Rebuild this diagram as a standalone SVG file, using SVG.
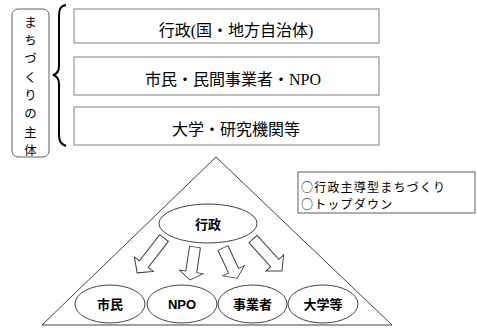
<svg xmlns="http://www.w3.org/2000/svg" width="477" height="328" viewBox="0 0 477 328">
<style>
.box{fill:#fff;stroke:#808080;stroke-width:1}
.serif{font-family:"Liberation Serif","Noto Sans CJK JP",serif;font-size:16px;fill:#000;text-anchor:middle}
.lab{font-family:"Noto Sans CJK JP",sans-serif;font-size:12.4px;fill:#000;text-anchor:middle}
.ell{fill:#fff;stroke:#404040;stroke-width:1}
.eltxt{font-family:"Liberation Sans","Noto Sans CJK JP",sans-serif;font-size:13px;font-weight:bold;fill:#000;text-anchor:middle}
.note{font-family:"Noto Sans CJK JP",sans-serif;font-size:12px;letter-spacing:1.2px;fill:#000}
.arr{fill:#fff;stroke:#404040;stroke-width:1}
</style>
<defs>
<polygon id="blk" points="0,-5.5 33,-5.5 33,-12 44,0 33,12 33,5.5 0,5.5"/>
</defs>
<rect width="477" height="328" fill="#fff"/>
<g id="label">
<rect x="12" y="9" width="37" height="148" rx="6" ry="6" fill="#fff" stroke="#606060" stroke-width="1"/>
<text class="lab"><tspan x="30.5" y="27">ま</tspan><tspan x="30.5" y="45">ち</tspan><tspan x="30.5" y="63">づ</tspan><tspan x="30.5" y="82">く</tspan><tspan x="30.5" y="100">り</tspan><tspan x="30.5" y="118">の</tspan><tspan x="30.5" y="137">主</tspan><tspan x="30.5" y="155">体</tspan></text>
</g>
<g id="brace">
<path d="M66,5 C60,6 59,10 59,16 L59,66 C59,71 57,74 53,75 C57,76 59,79 59,84 L59,134 C59,140 60,144 66,146" fill="none" stroke="#000" stroke-width="2"/>
</g>
<g id="box1">
<rect class="box" x="74" y="9" width="305" height="34"/>
<text class="serif" x="236" y="36">行政(国・地方自治体)</text>
</g>
<g id="box2">
<rect class="box" x="74" y="57" width="305" height="38"/>
<text class="serif" x="233" y="85">市民・民間事業者・NPO</text>
</g>
<g id="box3">
<rect class="box" x="74" y="107" width="305" height="38"/>
<text class="serif" x="236" y="135">大学・研究機関等</text>
</g>
<g id="triangle">
<polygon points="216,157 392,325 42,325" fill="none" stroke="#404040" stroke-width="1"/>
</g>
<g id="note">
<rect x="298" y="172" width="177" height="41" fill="#fff" stroke="#606060" stroke-width="1"/>
<text class="note" x="301" y="192">○行政主導型まちづくり</text>
<text class="note" x="301" y="209">○トップダウン</text>
</g>
<g id="connectors">
<use href="#blk" class="arr" transform="translate(164,238) rotate(127.6)"/>
<use href="#blk" class="arr" transform="translate(195,247) rotate(98.6) scale(0.76,1)"/>
<use href="#blk" class="arr" transform="translate(223,248) rotate(65) scale(0.76,1)"/>
<use href="#blk" class="arr" transform="translate(253,239) rotate(47.8) scale(0.98,1)"/>
</g>
<g id="gyosei">
<ellipse class="ell" cx="208" cy="223.5" rx="49" ry="19.5"/>
<text class="eltxt" x="208" y="229">行政</text>
</g>
<g id="shimin">
<ellipse class="ell" cx="110" cy="304" rx="35" ry="19"/>
<text class="eltxt" x="110" y="309">市民</text>
</g>
<g id="npo">
<ellipse class="ell" cx="182" cy="304" rx="35" ry="19"/>
<text class="eltxt" x="182" y="309">NPO</text>
</g>
<g id="jigyosha">
<ellipse class="ell" cx="252.5" cy="304" rx="34.5" ry="19"/>
<text class="eltxt" x="252.5" y="309">事業者</text>
</g>
<g id="daigaku">
<ellipse class="ell" cx="323" cy="304" rx="35" ry="19"/>
<text class="eltxt" x="323" y="309">大学等</text>
</g>
</svg>
